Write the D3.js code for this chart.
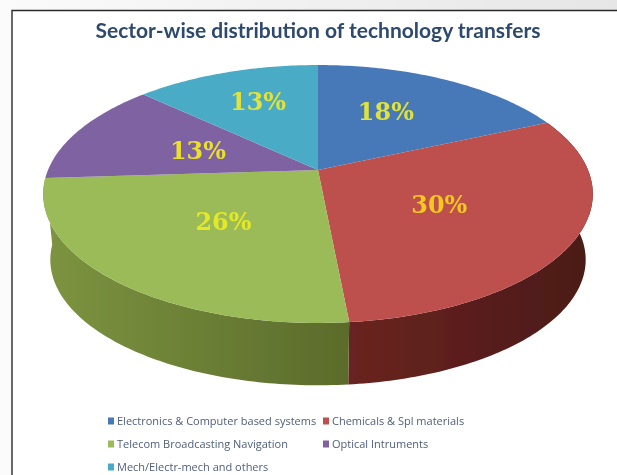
<!DOCTYPE html>
<html>
<head>
<meta charset="utf-8">
<script src="https://cdn.jsdelivr.net/npm/d3@7"></script>
<style>
    html, body { margin: 0; padding: 0; background: #fff; }
    svg { display: block; }
</style>
</head>
<body>
<div id="chart"></div>
<script>
// Chart data
const sectors = ['Electronics & Computer based systems', 'Chemicals & Spl materials',
    'Telecom Broadcasting Navigation', 'Optical Intruments', 'Mech/Electr-mech and others'];
const shares = [18.3, 30.2, 25.5, 13, 13];
const topColors = ['#4678b8', '#bd504d', '#9abb58', '#7f62a1', '#4aabc5'];
const wallLeft = ['#2f5585', '#6a2320', '#7d9440', '#5a4573', '#337a8c'];
const wallRight = ['#2a4c78', '#4a1a18', '#5b6b2b', '#4f3d66', '#2d6c7c'];
const labelColors = ['#dfe23c', '#f4c81e', '#e4e825', '#ecdf2a', '#dfe33a'];

const width = 617, height = 475;
const svg = d3.select('#chart').append('svg').attr('width', width).attr('height', height);
const defs = svg.append('defs');

// Soft look of the scanned picture
defs.append('filter').attr('id', 'soft').append('feGaussianBlur').attr('stdDeviation', 0.6);
defs.append('filter').attr('id', 'softer').append('feGaussianBlur').attr('stdDeviation', 0.45);

const bg = defs.append('linearGradient').attr('id', 'bg');
bg.append('stop').attr('offset', '0%').attr('stop-color', '#fbfbfb');
bg.append('stop').attr('offset', '100%').attr('stop-color', '#e6e6e6');

// Page background and the panel with its dark top and left rule
svg.append('rect').attr('width', width).attr('height', height).attr('fill', 'url(#bg)');
svg.append('rect').attr('x', 12).attr('y', 10).attr('width', width - 12).attr('height', height - 10)
    .attr('fill', '#fff');
svg.append('path').attr('d', `M12,${height}V10.5H${width}`)
    .attr('fill', 'none').attr('stroke', '#2a2a2a').attr('stroke-width', 1.4);

svg.append('text')
    .attr('x', 318).attr('y', 38)
    .attr('text-anchor', 'middle')
    .attr('font-family', 'Lato, sans-serif')
    .attr('font-weight', 700)
    .attr('font-size', 21)
    .attr('fill', '#2f4a6e')
    .attr('filter', 'url(#softer)')
    .text('Sector-wise distribution of technology transfers');

// Tilted disc: unit circle seen in perspective, centre falls above the middle of the ellipse
const centre = [318, 170];
const persp = 0.186;
const xScale = d3.scaleLinear().domain([-1, 1]).range([centre[0] - 270, centre[0] + 270]);
const yScale = d3.scaleLinear().domain([-1, 1]).range([centre[1] + 124.5, centre[1] - 124.5]);
const depth = 67;
const baseShrink = 0.975;

function project(angle, r) {
    const u = Math.sin(angle) * r, v = Math.cos(angle) * r;
    const w = 1 + persp * v;
    return [xScale(u / w), yScale(v / w)];
}

function rim(a0, a1, r, dy) {
    const n = Math.max(2, Math.ceil((a1 - a0) * 60));
    return d3.range(n + 1).map(i => {
        const p = project(a0 + (a1 - a0) * i / n, r);
        return [p[0], p[1] + dy];
    });
}

const pieData = d3.pie().sort(null)(shares);
const line = d3.line();
const discG = svg.append('g').attr('filter', 'url(#softer)');

// Side walls first, only the slices that face the viewer have one
pieData.forEach((d, i) => {
    if (Math.cos((d.startAngle + d.endAngle) / 2) >= 0) return;
    const top = rim(d.startAngle, d.endAngle, 1, 0);
    const bottom = rim(d.startAngle, d.endAngle, baseShrink, depth).reverse();
    const grad = defs.append('linearGradient').attr('id', 'wall' + i)
        .attr('gradientUnits', 'userSpaceOnUse')
        .attr('x1', d3.min(top, p => p[0])).attr('x2', d3.max(top, p => p[0]))
        .attr('y1', 0).attr('y2', 0);
    grad.append('stop').attr('offset', '0%').attr('stop-color', wallLeft[i]);
    grad.append('stop').attr('offset', '100%').attr('stop-color', wallRight[i]);
    discG.append('path')
        .attr('d', line(top.concat(bottom)) + 'Z')
        .attr('fill', 'url(#wall' + i + ')');
});

pieData.forEach((d, i) => {
    discG.append('path')
        .attr('d', line([project(0, 0)].concat(rim(d.startAngle, d.endAngle, 1, 0))) + 'Z')
        .attr('fill', topColors[i]);
});

// Percent labels, hand placed a little off the slice middle like in the original
const labelNudge = [[-6.5, 3], [-14, 7], [10, 4], [15, 11], [-6, -3]];
pieData.forEach((d, i) => {
    const p = project((d.startAngle + d.endAngle) / 2, 0.55);
    svg.append('text')
        .attr('x', p[0] + labelNudge[i][0]).attr('y', p[1] + labelNudge[i][1])
        .attr('text-anchor', 'middle')
        .attr('font-family', 'DejaVu Serif, serif')
        .attr('font-weight', 700)
        .attr('font-size', 25)
        .attr('textLength', 56)
        .attr('lengthAdjust', 'spacingAndGlyphs')
        .attr('fill', labelColors[i])
        .attr('filter', 'url(#softer)')
        .text(Math.round(d.data) + '%');
});

// Legend, three rows of two
const legendX = d3.scaleOrdinal().domain([0, 1]).range([110, 325]);
const legendY = d3.scaleLinear().domain([0, 2]).range([421, 467]);
const legend = svg.append('g').attr('filter', 'url(#soft)');
sectors.forEach((name, i) => {
    const x = legendX(i % 2), y = legendY(Math.floor(i / 2));
    legend.append('rect').attr('x', x - 2).attr('y', y - 3.5).attr('width', 6).attr('height', 7)
        .attr('fill', topColors[i]);
    legend.append('text')
        .attr('x', x + 7).attr('y', y + 3.5)
        .attr('font-family', 'Open Sans, sans-serif')
        .attr('font-size', 11)
        .attr('fill', '#50607c')
        .text(name);
});
</script>
</body>
</html>
